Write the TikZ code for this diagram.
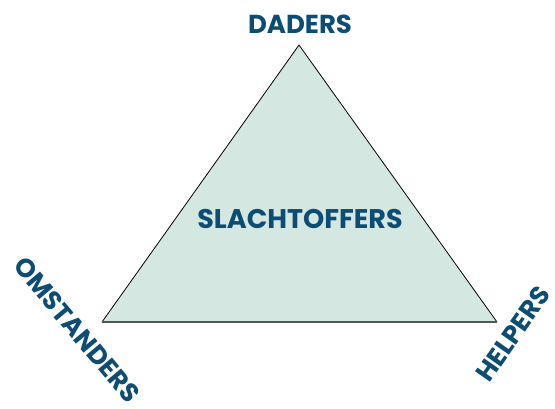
\documentclass[tikz,border=0pt]{standalone}
\usepackage{fontspec}
\newfontfamily\lblfont{Poppins}[UprightFont={* Bold},BoldFont={* ExtraBold}]
\definecolor{txtblue}{HTML}{0D4C73}
\definecolor{trifill}{HTML}{D5E7E1}
\definecolor{basegray}{HTML}{555555}
\begin{document}
\begin{tikzpicture}[x=1pt,y=-1pt,
  lbl/.style={text=txtblue,font=\lblfont\fontsize{26}{28}\selectfont,inner sep=0pt}]
\useasboundingbox (0,0) rectangle (555,408);
\coordinate (apex) at (299,45);
\coordinate (bl) at (102,322);
\coordinate (br) at (497,322);
\fill[trifill] (apex) -- (bl) -- (br) -- cycle;
\draw[black,line width=0.8pt,line join=miter] (bl) -- (apex) -- (br);
\draw[basegray,line width=1.6pt] (bl) -- (br);
\node[lbl] (daders) at (300,24) {DADERS};
\node[lbl,font=\lblfont\fontsize{27}{29}\selectfont] (slacht) at (300,219) {SLACHTOFFERS};
\node[lbl,rotate=-50] (omst) at (77,330) {OMSTANDERS};
\node[lbl,rotate=55] (helpers) at (513,334) {HELPERS};
\end{tikzpicture}
\end{document}
